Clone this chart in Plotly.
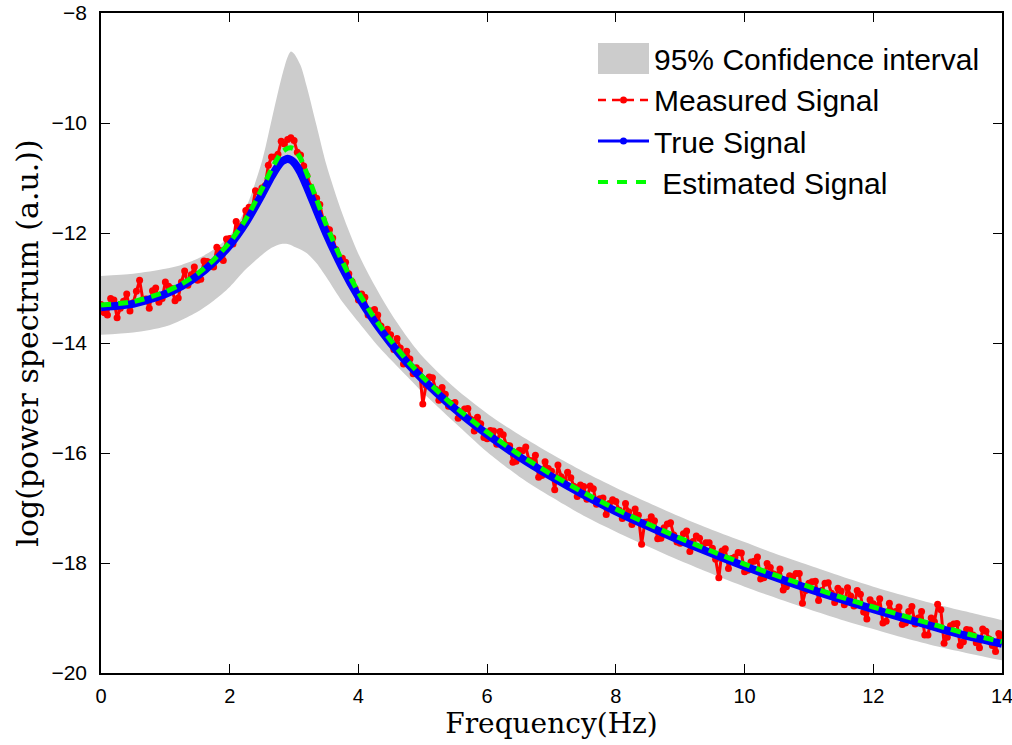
import plotly.graph_objects as go

# frequency grid used for the smooth curves (Hz)
freq_grid = [0.0, 0.5, 1.0, 1.25, 1.5, 1.75, 2.0, 2.25, 2.5, 2.65, 2.8, 2.9, 2.95, 3.0, 3.1, 3.2,
             3.35, 3.5, 3.75, 4.0, 4.25, 4.5, 4.75, 5.0, 5.5, 6.0, 6.5, 7.0, 7.5, 8.0,
             8.5, 9.0, 9.5, 10.0, 10.5, 11.0, 11.5, 12.0, 12.5, 13.0, 13.5, 14.0]

true_signal = [-13.35, -13.29, -13.11, -12.97, -12.78, -12.53, -12.22, -11.81, -11.30, -10.97, -10.71, -10.65,
               -10.67, -10.72, -10.90, -11.16, -11.59, -12.01, -12.63, -13.16, -13.61, -14.00,
               -14.35, -14.66, -15.20, -15.66, -16.07, -16.43, -16.76, -17.06, -17.33, -17.59,
               -17.83, -18.06, -18.27, -18.47, -18.66, -18.84, -19.01, -19.18, -19.34, -19.47]

estimated_signal = [-13.31, -13.25, -13.07, -12.93, -12.74, -12.49, -12.17, -11.75, -11.20, -10.84, -10.54, -10.46,
                    -10.45, -10.47, -10.64, -10.92, -11.39, -11.85, -12.52, -13.08, -13.55, -13.95,
                    -14.31, -14.62, -15.16, -15.62, -16.03, -16.39, -16.72, -17.02, -17.29, -17.55,
                    -17.79, -18.02, -18.23, -18.43, -18.62, -18.80, -18.97, -19.14, -19.30, -19.43]

ci_upper = [-12.78, -12.74, -12.65, -12.58, -12.47, -12.30, -12.05, -11.55, -10.70, -9.95, -9.20, -8.80,
            -8.70, -8.74, -8.95, -9.35, -10.05, -10.75, -11.65, -12.38, -12.95, -13.45,
            -13.88, -14.25, -14.82, -15.28, -15.67, -16.02, -16.34, -16.63, -16.90, -17.16,
            -17.40, -17.62, -17.84, -18.04, -18.24, -18.43, -18.60, -18.76, -18.90, -19.04]

ci_lower = [-13.85, -13.81, -13.70, -13.58, -13.43, -13.23, -12.98, -12.66, -12.40, -12.27, -12.20, -12.20,
            -12.22, -12.25, -12.30, -12.37, -12.55, -12.80, -13.25, -13.62, -13.98, -14.30,
            -14.60, -14.90, -15.45, -15.98, -16.43, -16.80, -17.14, -17.43, -17.70, -17.96,
            -18.20, -18.43, -18.64, -18.84, -19.03, -19.20, -19.37, -19.52, -19.65, -19.77]

# measured spectrum, one value every 0.05 Hz from 0 to 14
freq_measured = [round(i * 0.05, 2) for i in range(281)]
measured_signal = [
    -13.30, -13.45, -13.49, -13.19, -13.22, -13.54, -13.37, -13.24, -13.11, -13.42,
    -13.27, -13.06, -12.86, -13.21, -13.20, -13.37, -13.05, -13.00, -13.26, -13.19,
    -12.89, -12.97, -13.01, -13.23, -13.18, -12.89, -12.69, -12.95, -12.76, -12.62,
    -12.86, -12.84, -12.51, -12.52, -12.54, -12.62, -12.26, -12.32, -12.50, -12.11,
    -12.10, -12.20, -11.79, -11.89, -11.85, -11.59, -11.53, -11.56, -11.23, -11.26,
    -11.18, -11.14, -10.77, -10.62, -10.62, -10.57, -10.33, -10.38, -10.30, -10.27,
    -10.32, -10.53, -10.58, -10.78, -10.96, -11.16, -11.30, -11.37, -11.48, -11.75,
    -11.91, -11.94, -12.09, -12.30, -12.47, -12.46, -12.53, -12.74, -12.88, -13.01,
    -13.22, -13.11, -13.17, -13.49, -13.42, -13.39, -13.49, -13.69, -13.80, -13.75,
    -13.85, -14.12, -13.92, -14.09, -14.38, -14.15, -14.29, -14.56, -14.45, -14.50,
    -15.11, -14.77, -14.62, -14.63, -14.84, -15.04, -14.81, -14.93, -15.15, -15.10,
    -15.08, -15.37, -15.28, -15.20, -15.19, -15.39, -15.60, -15.35, -15.47, -15.72,
    -15.74, -15.59, -15.60, -15.84, -15.61, -15.67, -15.86, -15.87, -16.17, -16.15,
    -15.95, -15.96, -15.89, -16.13, -16.14, -16.04, -16.44, -16.41, -16.16, -16.28,
    -16.33, -16.67, -16.22, -16.43, -16.51, -16.35, -16.45, -16.61, -16.79, -16.58,
    -16.61, -16.84, -16.60, -16.65, -16.93, -16.83, -16.82, -17.12, -16.92, -16.85,
    -16.88, -17.04, -17.19, -16.92, -17.07, -17.30, -17.02, -17.13, -17.66, -17.26,
    -17.25, -17.16, -17.23, -17.56, -17.55, -17.36, -17.29, -17.27, -17.49, -17.62,
    -17.64, -17.47, -17.42, -17.79, -17.61, -17.51, -17.55, -17.71, -17.63, -17.63,
    -17.73, -17.93, -18.27, -17.78, -17.74, -18.10, -17.92, -17.89, -17.81, -17.82,
    -18.16, -18.13, -17.98, -17.97, -17.89, -18.29, -18.27, -18.01, -18.08, -18.20,
    -18.22, -18.11, -18.49, -18.43, -18.23, -18.25, -18.19, -18.19, -18.73, -18.50,
    -18.37, -18.34, -18.33, -18.68, -18.50, -18.37, -18.36, -18.55, -18.72, -18.46,
    -18.51, -18.76, -18.45, -18.60, -18.78, -18.50, -18.57, -18.89, -19.02, -18.67,
    -18.74, -18.81, -18.65, -19.09, -19.06, -18.73, -18.89, -18.88, -18.80, -19.12,
    -19.09, -18.88, -18.79, -19.11, -19.00, -18.88, -19.31, -19.31, -19.00, -19.07,
    -18.75, -18.85, -19.46, -19.35, -19.14, -19.11, -19.10, -19.50, -19.43, -19.21,
    -19.22, -19.31, -19.45, -19.54, -19.20, -19.24, -19.38, -19.50, -19.61, -19.28,
    -19.34]

x_ticks = [0, 2, 4, 6, 8, 10, 12, 14]
y_ticks = [-20, -18, -16, -14, -12, -10, -8]
y_ticktext = ['\u221220', '\u221218', '\u221216', '\u221214', '\u221212', '\u221210', '\u22128']

legend_labels = ['95% Confidence interval', 'Measured Signal', 'True Signal', ' Estimated Signal']

GRAY = 'rgb(204,204,204)'
RED = 'rgb(255,0,0)'
BLUE = 'rgb(0,0,255)'
GREEN = 'rgb(0,255,0)'

# plot area in pixels (figure is 1012x745)
L, R, T, B = 101, 1002, 13, 673


def px(x):
    return (x - L) / (R - L)


def py(y):
    return (B - y) / (B - T)


fig = go.Figure()

# confidence band
fig.add_trace(go.Scatter(x=freq_grid, y=ci_lower, mode='lines',
                         line=dict(width=0, color=GRAY, shape='spline', smoothing=0.8),
                         showlegend=False, hoverinfo='skip'))
fig.add_trace(go.Scatter(x=freq_grid, y=ci_upper, mode='lines', fill='tonexty', fillcolor=GRAY,
                         line=dict(width=0, color=GRAY, shape='spline', smoothing=0.8),
                         showlegend=False))

# measured
fig.add_trace(go.Scatter(x=freq_measured, y=measured_signal, mode='lines+markers',
                         line=dict(color=RED, width=3), marker=dict(color=RED, size=7),
                         showlegend=False))

# true
fig.add_trace(go.Scatter(x=freq_grid, y=true_signal, mode='lines',
                         line=dict(color=BLUE, width=8, shape='spline', smoothing=0.6),
                         showlegend=False))

# estimated
fig.add_trace(go.Scatter(x=freq_grid, y=estimated_signal, mode='lines',
                         line=dict(color=GREEN, width=5, dash='10px,7px', shape='spline', smoothing=0.6),
                         showlegend=False))

# hand-drawn legend (matlab style, top right inside the axes)
shapes = []
annotations = []
row_y = [59, 100, 141, 182]
sx0, sx1 = 598, 649
shapes.append(dict(type='rect', xref='paper', yref='paper', x0=px(sx0), x1=px(sx1),
                   y0=py(row_y[0] + 15), y1=py(row_y[0] - 16), fillcolor=GRAY, line=dict(width=0)))
shapes.append(dict(type='line', xref='paper', yref='paper', x0=px(sx0), x1=px(sx1),
                   y0=py(row_y[1]), y1=py(row_y[1]), line=dict(color=RED, width=2.5, dash='8px,6px')))
shapes.append(dict(type='line', xref='paper', yref='paper', x0=px(sx0), x1=px(sx1),
                   y0=py(row_y[2]), y1=py(row_y[2]), line=dict(color=BLUE, width=3)))
shapes.append(dict(type='line', xref='paper', yref='paper', x0=px(sx0), x1=px(sx1),
                   y0=py(row_y[3]), y1=py(row_y[3]), line=dict(color=GREEN, width=4, dash='10px,9px')))
for ry, col in [(row_y[1], RED), (row_y[2], BLUE)]:
    cx = (sx0 + sx1) / 2
    shapes.append(dict(type='circle', xref='paper', yref='paper', x0=px(cx - 3.5), x1=px(cx + 3.5),
                       y0=py(ry + 3.5), y1=py(ry - 3.5), fillcolor=col, line=dict(width=0)))
for lab, ry in zip(legend_labels, row_y):
    annotations.append(dict(text=lab, xref='paper', yref='paper', x=px(652), y=py(ry + 1),
                            xanchor='left', yanchor='middle', showarrow=False,
                            font=dict(family='Liberation Sans, Arial', size=30, color='black')))

axis_common = dict(showline=True, linecolor='black', linewidth=1.5, mirror='ticks', ticks='inside',
                   ticklen=9, tickcolor='black', showgrid=False, zeroline=False, automargin=False,
                   ticklabeloverflow='allow')

fig.update_xaxes(range=[0, 14], tickvals=x_ticks, ticklabelstandoff=4,
                 tickfont=dict(family='Liberation Sans, Arial', size=20, color='black'),
                 title=dict(text='Frequency(Hz)', font=dict(family='DejaVu Serif', size=28, color='black'),
                            standoff=6),
                 **axis_common)
fig.update_yaxes(range=[-20, -8], tickvals=y_ticks, ticktext=y_ticktext, ticklabelstandoff=8,
                 tickfont=dict(family='Liberation Sans, Arial', size=21, color='black'),
                 title=dict(text='log(power spectrum (a.u.))', font=dict(family='DejaVu Serif', size=30, color='black'),
                            standoff=4),
                 **axis_common)

fig.update_layout(
    width=1012, height=745,
    margin=dict(l=L, r=1012 - R, t=T, b=745 - B),
    plot_bgcolor='white', paper_bgcolor='white',
    showlegend=False,
    shapes=shapes,
    annotations=annotations,
)

# drop the default 8px body margin so the figure sits flush in the window
fig.write_html("out.html", config={'displayModeBar': False},
               post_script="document.body.style.margin='0px';")
